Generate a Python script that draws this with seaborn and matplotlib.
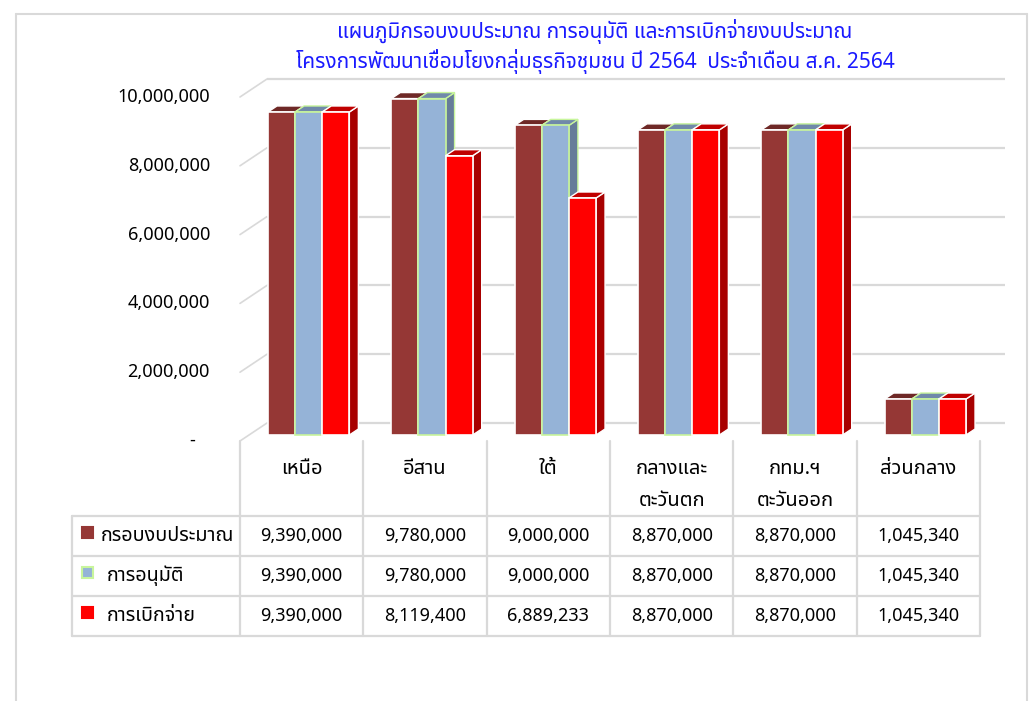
import numpy as np
import pandas as pd
import matplotlib
matplotlib.use('Agg')
import matplotlib.pyplot as plt
import seaborn as sns
from matplotlib import font_manager as fm
from matplotlib.patches import Polygon, Rectangle
from fontTools.ttLib import TTFont

# data
regions = ['เหนือ', 'อีสาน', 'ใต้', 'กลางและ\nตะวันตก', 'กทม.ฯ\nตะวันออก', 'ส่วนกลาง']
series = ['กรอบงบประมาณ', 'การอนุมัติ', 'การเบิกจ่าย']
budget = [9390000, 9780000, 9000000, 8870000, 8870000, 1045340]
approved = [9390000, 9780000, 9000000, 8870000, 8870000, 1045340]
disbursed = [9390000, 8119400, 6889233, 8870000, 8870000, 1045340]
yticks = [0, 2000000, 4000000, 6000000, 8000000, 10000000]
title1 = 'แผนภูมิกรอบงบประมาณ การอนุมัติ และการเบิกจ่ายงบประมาณ'
title2 = 'โครงการพัฒนาเชื่อมโยงกลุ่มธุรกิจชุมชน ปี 2564  ประจำเดือน ส.ค. 2564'

front_c = ['#953735', '#95b3d7', '#ff0000']
top_c = ['#6e2826', '#7089aa', '#c00000']
side_c = ['#6e2826', '#667c99', '#a80000']
edge_c = ['white', '#c8f59c', 'white']
grid_c = '#d9d9d9'


def thai_family():
    # pick an installed family that actually has Thai glyphs
    prefer = ['Noto Sans Thai', 'Noto Sans Thai UI', 'Noto Sans Thai Looped', 'Tahoma',
              'Loma', 'Garuda', 'Sarabun', 'Waree', 'Umpush', 'Tlwg Typo', 'Norasi',
              'Kinnari', 'FreeSans', 'Noto Sans', 'Noto Serif Thai']
    found = {}
    for f in fm.fontManager.ttflist:
        if f.name in found:
            continue
        try:
            tt = TTFont(f.fname, fontNumber=0, lazy=True)
            cmap = tt.getBestCmap() or {}
            if 0x0E01 in cmap and 0x0E34 in cmap:
                found[f.name] = f.fname
        except Exception:
            pass
    for p in prefer:
        if p in found:
            return p
    return next(iter(found)) if found else 'DejaVu Sans'


sns.set_theme(style='white')
thai = thai_family()
plt.rcParams['font.family'] = [thai, 'DejaVu Sans']

W, H = 1031, 701
fig = plt.figure(figsize=(W / 100, H / 100), dpi=100)
fig.patch.set_facecolor('white')

# table / frame layer in pixel coords
tab = fig.add_axes([0, 0, 1, 1], zorder=-1)
tab.set_xlim(0, W)
tab.set_ylim(H, 0)
tab.set_axis_off()

# bar plane axes
bx0, bx1, by0, by1 = 247, 987, 435, 91
ax = fig.add_axes([bx0 / W, 1 - by0 / H, (bx1 - bx0) / W, (by0 - by1) / H])

df = pd.DataFrame({'region': regions, series[0]: budget, series[1]: approved, series[2]: disbursed})
long = df.melt(id_vars='region', var_name='series', value_name='value')
sns.barplot(data=long, x='region', y='value', hue='series', order=regions, hue_order=series,
            palette=front_c, saturation=1, width=0.66, gap=0, errorbar=None,
            legend=False, ax=ax)
ax.set_xlim(-0.5, len(regions) - 0.5)
ax.set_ylim(0, 10000000)
ax.set_axis_off()

ux = (len(regions)) / (bx1 - bx0)
uy = 10000000 / (by0 - by1)

# 3d faces
n = len(regions)
bars = []
for k, p in enumerate(ax.patches):
    bars.append((p, k // n))
bars.sort(key=lambda b: b[0].get_x())
dx, dy = 9 * ux, 6 * uy
for i, (p, j) in enumerate(bars):
    z = 3 + i * 0.1
    x0 = p.get_x()
    x1 = x0 + p.get_width()
    h = p.get_height()
    side = Polygon([(x1, 0), (x1 + dx, dy), (x1 + dx, h + dy), (x1, h)], closed=True,
                   facecolor=side_c[j], edgecolor=edge_c[j], lw=1, zorder=z, clip_on=False)
    top = Polygon([(x0, h), (x1, h), (x1 + dx, h + dy), (x0 + dx, h + dy)], closed=True,
                  facecolor=top_c[j], edgecolor=edge_c[j], lw=1, zorder=z + 0.01, clip_on=False)
    ax.add_patch(side)
    ax.add_patch(top)
    p.set_edgecolor(edge_c[j])
    p.set_linewidth(1.2)
    p.set_zorder(z + 0.02)
    p.set_clip_on(False)

# back wall gridlines and left wall diagonals
bkx, bky = 20 * ux, 12 * uy
frx, fry = -7 * ux, -6 * uy
for t in yticks:
    ax.plot([-0.5 + bkx, n - 0.5 + bkx - 2 * ux], [t + bky, t + bky], color=grid_c, lw=1.6,
            zorder=0.5, clip_on=False, solid_capstyle='butt')
    ax.plot([-0.5 + frx, -0.5 + bkx], [t + fry, t + bky], color=grid_c, lw=1.2,
            zorder=0.5, clip_on=False)
    lab = f'{t:,.0f}' if t else '-   '
    ax.text(-0.5 - 37 * ux, t + fry, lab, ha='right', va='center', fontsize=13,
            color='black', clip_on=False)

# outer frame
tab.plot([16, 16], [14, H], color=grid_c, lw=1.5)
tab.plot([16, 1027], [14, 14], color=grid_c, lw=1.5)
tab.plot([1027, 1027], [14, H], color=grid_c, lw=1.5)

# titles
fig.text(595 / W, 1 - 31 / H, title1, ha='center', va='center', fontsize=15, color='#1a1aff')
fig.text(595 / W, 1 - 62 / H, title2, ha='center', va='center', fontsize=15, color='#1a1aff')

# data table
col_w = (bx1 - bx0) / n
cols = [240 + col_w * i for i in range(n + 1)]
rows = [516, 556, 596, 636]
for c in cols:
    tab.plot([c, c], [441, rows[-1]], color=grid_c, lw=1.6, zorder=1)
tab.plot([72, 72], [rows[0], rows[-1]], color=grid_c, lw=1.6, zorder=1)
for r in rows:
    tab.plot([72, cols[-1]], [r, r], color=grid_c, lw=1.6, zorder=1)

for i, reg in enumerate(regions):
    cx = (cols[i] + cols[i + 1]) / 2
    for m, line in enumerate(reg.split('\n')):
        tab.text(cx, 469 + 32 * m, line, ha='center', va='center', fontsize=14.5, color='black')

values = [budget, approved, disbursed]
for j, name in enumerate(series):
    cy = (rows[j] + rows[j + 1]) / 2
    sq = Rectangle((82, cy - 9), 11, 11, facecolor=front_c[j],
                   edgecolor=edge_c[j] if j == 1 else front_c[j], lw=1.5, zorder=2)
    tab.add_patch(sq)
    tab.text(101 if j == 0 else 107, cy, name, ha='left', va='center', fontsize=14.2,
             color='black')
    for i in range(n):
        cx = (cols[i] + cols[i + 1]) / 2
        tab.text(cx, cy, f'{values[j][i]:,.0f}', ha='center', va='center', fontsize=13,
                 color='black')

fig.savefig('out.png', dpi=100)
